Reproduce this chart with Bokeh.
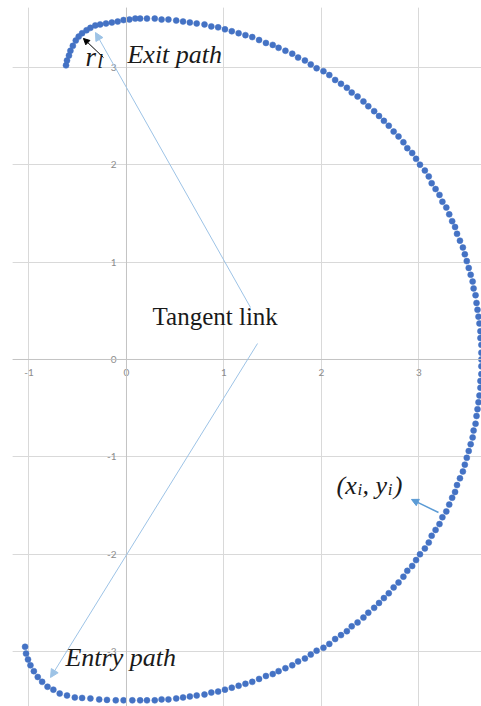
from bokeh.plotting import figure
from bokeh.models import Range1d, Grid, FixedTicker, Span, Label, Arrow, NormalHead
from bokeh.core.properties import value
from bokeh.embed import file_html
from bokeh.resources import INLINE

# Entry path: small turning arc at the lower left, then the flat run to the big arc
entry_x = [-1.04, -1.03, -1.01, -0.985, -0.95, -0.91, -0.865, -0.81, -0.75, -0.685,
           -0.61, -0.53, -0.455, -0.37, -0.28, -0.20, -0.11, -0.03, 0.06]
entry_y = [-2.95, -3.02, -3.08, -3.14, -3.20, -3.26, -3.31, -3.36, -3.39, -3.43,
           -3.45, -3.47, -3.475, -3.48, -3.49, -3.495, -3.50, -3.50, -3.50]

# Big arc, lower half (bottom up to the rightmost point)
lower_x = [0.14, 0.21, 0.29, 0.36, 0.43, 0.51, 0.58, 0.65, 0.72, 0.80, 0.87, 0.94, 1.01,
           1.08, 1.15, 1.22, 1.29, 1.36, 1.43, 1.50, 1.56, 1.63, 1.70, 1.76, 1.83, 1.89,
           1.95, 2.02, 2.08, 2.14, 2.20, 2.26, 2.31, 2.37, 2.43, 2.48, 2.54, 2.59, 2.64,
           2.69, 2.74, 2.79, 2.84, 2.88, 2.93, 2.97, 3.01, 3.06, 3.10, 3.13, 3.17, 3.21,
           3.24, 3.28, 3.31, 3.34, 3.37, 3.39, 3.42, 3.45, 3.47, 3.49, 3.51, 3.53, 3.55,
           3.56, 3.58, 3.59, 3.60, 3.61, 3.62, 3.63, 3.63, 3.64, 3.64, 3.64]
lower_y = [-3.50, -3.50, -3.50, -3.49, -3.49, -3.48, -3.47, -3.46, -3.45, -3.44, -3.42,
           -3.41, -3.39, -3.37, -3.35, -3.33, -3.31, -3.28, -3.25, -3.23, -3.20, -3.17,
           -3.14, -3.10, -3.07, -3.03, -2.99, -2.96, -2.92, -2.87, -2.83, -2.79, -2.74,
           -2.70, -2.65, -2.60, -2.55, -2.50, -2.45, -2.40, -2.34, -2.29, -2.23, -2.17,
           -2.12, -2.06, -2.00, -1.94, -1.88, -1.81, -1.75, -1.69, -1.62, -1.56, -1.49,
           -1.42, -1.36, -1.29, -1.22, -1.15, -1.08, -1.01, -0.94, -0.87, -0.80, -0.73,
           -0.66, -0.58, -0.51, -0.44, -0.37, -0.29, -0.22, -0.15, -0.07, 0.00]

# Big arc, upper half (rightmost point round to the top)
upper_x = [3.64, 3.64, 3.63, 3.63, 3.62, 3.61, 3.60, 3.59, 3.58, 3.56, 3.55, 3.53, 3.51,
           3.49, 3.47, 3.45, 3.42, 3.39, 3.37, 3.34, 3.31, 3.28, 3.24, 3.21, 3.17, 3.13,
           3.10, 3.06, 3.01, 2.97, 2.93, 2.88, 2.84, 2.79, 2.74, 2.69, 2.64, 2.59, 2.54,
           2.48, 2.43, 2.37, 2.31, 2.26, 2.20, 2.14, 2.08, 2.02, 1.95, 1.89, 1.83, 1.76,
           1.70, 1.63, 1.56, 1.50, 1.43, 1.36, 1.29, 1.22, 1.15, 1.08, 1.01, 0.94, 0.87,
           0.80, 0.72, 0.65, 0.58, 0.51, 0.43, 0.36, 0.29, 0.21, 0.14]
upper_y = [0.07, 0.15, 0.22, 0.29, 0.37, 0.44, 0.51, 0.58, 0.66, 0.73, 0.80, 0.87, 0.94,
           1.01, 1.08, 1.15, 1.22, 1.29, 1.36, 1.42, 1.49, 1.56, 1.62, 1.69, 1.75, 1.81,
           1.88, 1.94, 2.00, 2.06, 2.12, 2.17, 2.23, 2.29, 2.34, 2.40, 2.45, 2.50, 2.55,
           2.60, 2.65, 2.70, 2.74, 2.79, 2.83, 2.87, 2.92, 2.96, 2.99, 3.03, 3.07, 3.10,
           3.14, 3.17, 3.20, 3.23, 3.25, 3.28, 3.31, 3.33, 3.35, 3.37, 3.39, 3.41, 3.42,
           3.44, 3.45, 3.46, 3.47, 3.48, 3.49, 3.49, 3.50, 3.50, 3.50]

# Exit path: short run to the left and the small arc ending at the top left
exit_x = [0.09, 0.03, -0.03, -0.09, -0.15, -0.21, -0.27, -0.32, -0.37, -0.41, -0.455,
          -0.49, -0.52, -0.55, -0.575, -0.59, -0.61, -0.62]
exit_y = [3.50, 3.49, 3.485, 3.47, 3.46, 3.45, 3.44, 3.43, 3.405, 3.38, 3.35, 3.315,
          3.275, 3.22, 3.17, 3.12, 3.07, 3.02]

x_ticks = [-1, 0, 1, 2, 3]
y_ticks = [-3, -2, -1, 0, 1, 2, 3]
x_tick_labels = ["-1", "0", "1", "2", "3"]
y_tick_labels = ["-3", "-2", "-1", "0", "1", "2", "3"]

DOT = "#4472C4"
LINK = "#9DC3E6"
SERIF = "Liberation Serif"
INK = "#1a1a1a"

p = figure(width=481, height=706,
           x_range=Range1d(-1.169, 3.641), y_range=Range1d(-3.563, 3.614),
           x_axis_location=None, y_axis_location=None,
           min_border_left=12, min_border_top=7, min_border_right=0, min_border_bottom=0,
           toolbar_location=None, output_backend="svg")
p.outline_line_color = None
p.background_fill_color = "white"

p.add_layout(Grid(dimension=0, ticker=FixedTicker(ticks=x_ticks),
                  grid_line_color="#d9d9d9", grid_line_width=1))
p.add_layout(Grid(dimension=1, ticker=FixedTicker(ticks=y_ticks),
                  grid_line_color="#d9d9d9", grid_line_width=1))
p.add_layout(Span(location=0, dimension="width", line_color="#c4c4c4", line_width=1))
p.add_layout(Span(location=0, dimension="height", line_color="#c4c4c4", line_width=1))

# tick labels drawn along the axes that cross at the origin
p.text(x=x_ticks, y=[0] * len(x_ticks), text=x_tick_labels, y_offset=13,
       text_align="center", text_baseline="middle", text_font=value("Lato"),
       text_font_size="10px", text_color="#8c8c8c")
p.text(x=[0] * len(y_ticks), y=y_ticks, text=y_tick_labels, x_offset=-10,
       text_align="right", text_baseline="middle", text_font=value("Lato"),
       text_font_size="10px", text_color="#8c8c8c")

# the path points
for xs, ys in [(entry_x, entry_y), (lower_x, lower_y), (upper_x, upper_y), (exit_x, exit_y)]:
    p.scatter(xs, ys, size=6, fill_color=DOT, line_color=DOT, line_width=0.5)

# tangent link arrows
p.add_layout(Arrow(end=NormalHead(size=8, fill_color=LINK, line_color=LINK),
                   x_start=1.272, y_start=0.534, x_end=-0.318, y_end=3.357,
                   line_color=LINK, line_width=1))
p.add_layout(Arrow(end=NormalHead(size=8, fill_color=LINK, line_color=LINK),
                   x_start=1.344, y_start=0.164, x_end=-0.779, y_end=-3.265,
                   line_color=LINK, line_width=1))
# point marker arrow
p.add_layout(Arrow(end=NormalHead(size=7, fill_color="#5B9BD5", line_color="#5B9BD5"),
                   x_start=3.20, y_start=-1.571, x_end=2.923, y_end=-1.437,
                   line_color="#5B9BD5", line_width=1.5))
# turning radius arrow
p.add_layout(Arrow(end=NormalHead(size=6, fill_color="black", line_color="black"),
                   x_start=-0.236, y_start=3.10, x_end=-0.441, y_end=3.296,
                   line_color="black", line_width=1))


def label(x, y, text, size="26px", style="italic"):
    p.add_layout(Label(x=x, y=y, text=text, text_font=SERIF, text_font_size=size,
                       text_font_style=style, text_color=INK,
                       text_align="left", text_baseline="alphabetic"))


label(0.267, 0.44, "Tangent link", size="25px", style="normal")
label(0.01, 3.13, "Exit path")
label(-0.626, -3.06, "Entry path")
label(-0.42, 3.11, "r", size="27px")
label(-0.30, 3.06, "l", size="21px")
label(2.154, -1.29, "(x")
label(2.37, -1.34, "i", size="17px")
label(2.42, -1.29, ", y")
label(2.68, -1.34, "i", size="17px")
label(2.74, -1.29, ")")

open("out.html", "w").write(file_html(p, INLINE))
